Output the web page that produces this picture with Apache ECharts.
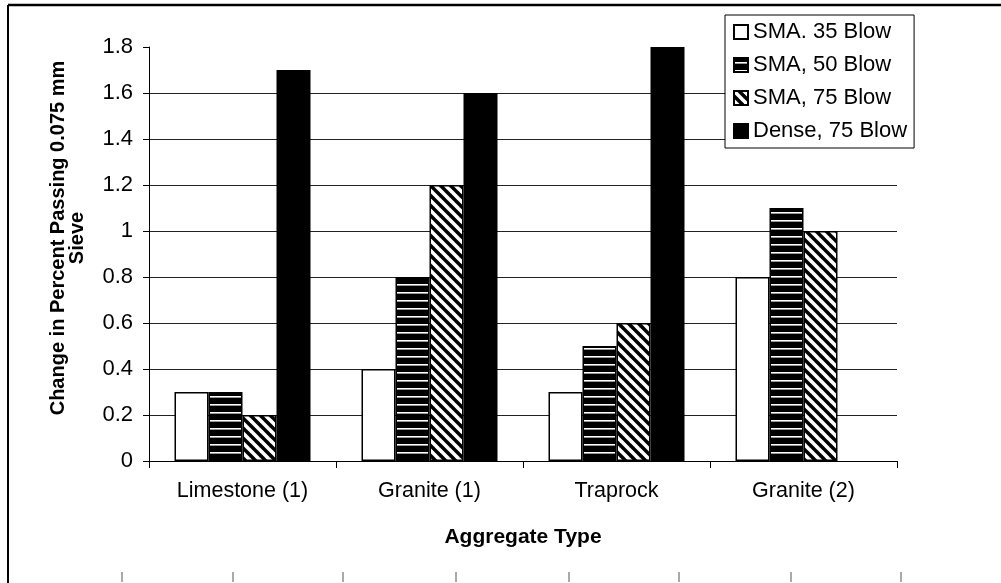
<!DOCTYPE html>
<html>
<head>
<meta charset="utf-8">
<script src="https://cdn.jsdelivr.net/npm/echarts@6/dist/echarts.min.js"></script>
<style>
html,body{margin:0;padding:0;background:#fff;}
#chart{width:1001px;height:583px;}
</style>
</head>
<body>
<div id="chart"></div>
<script>
const categories = ['Limestone (1)', 'Granite (1)', 'Traprock', 'Granite (2)'];
const seriesNames = ['SMA. 35 Blow', 'SMA, 50 Blow', 'SMA, 75 Blow', 'Dense, 75 Blow'];
const sma35 = [0.3, 0.4, 0.3, 0.8];
const sma50 = [0.3, 0.8, 0.5, 1.1];
const sma75 = [0.2, 1.2, 0.6, 1.0];
const dense75 = [1.7, 1.6, 1.8, null];
const yTicks = [0, 0.2, 0.4, 0.6, 0.8, 1, 1.2, 1.4, 1.6, 1.8];

const FONT = "'Liberation Sans', Arial, sans-serif";

function hStripePattern() {
  const c = document.createElement('canvas');
  c.width = 8; c.height = 8;
  const ctx = c.getContext('2d');
  ctx.fillStyle = '#000';
  ctx.fillRect(0, 0, 8, 8);
  ctx.fillStyle = '#fff';
  ctx.fillRect(0, 4, 8, 1.6);
  return c;
}
function dStripePattern() {
  const s = 10;
  const c = document.createElement('canvas');
  c.width = s; c.height = s;
  const ctx = c.getContext('2d');
  ctx.fillStyle = '#000';
  ctx.fillRect(0, 0, s, s);
  ctx.strokeStyle = '#fff';
  ctx.lineWidth = 3.6;
  for (let x0 = -s; x0 <= s; x0 += s) {
    ctx.beginPath();
    ctx.moveTo(x0 - 2, -2);
    ctx.lineTo(x0 + s + 2, s + 2);
    ctx.stroke();
  }
  return c;
}

const fills = [
  '#ffffff',
  { image: hStripePattern(), repeat: 'repeat' },
  { image: dStripePattern(), repeat: 'repeat' },
  '#000000'
];
const dataSets = [sma35, sma50, sma75, dense75];

const series = dataSets.map((d, i) => ({
  name: seriesNames[i],
  type: 'bar',
  data: d,
  barWidth: 34,
  barGap: '0%',
  itemStyle: { color: fills[i], borderColor: '#000', borderWidth: 1.5 },
  emphasis: { disabled: true },
  animation: false
}));

const bottomTickXs = [122, 233, 343, 456, 569, 679, 791, 901];
const graphics = [
  { type: 'line', shape: { x1: 8, y1: 5, x2: 1001, y2: 5 }, style: { stroke: '#000', lineWidth: 2.5 } },
  { type: 'line', shape: { x1: 8, y1: 5, x2: 8, y2: 583 }, style: { stroke: '#000', lineWidth: 2 } }
].concat(bottomTickXs.map(x => ({
  type: 'line', shape: { x1: x, y1: 572, x2: x, y2: 582 }, style: { stroke: '#555', lineWidth: 1 }
})));

const chart = echarts.init(document.getElementById('chart'), null, { renderer: 'canvas' });
chart.setOption({
  animation: false,
  backgroundColor: '#fff',
  textStyle: { fontFamily: FONT, color: '#000' },
  grid: { left: 149, right: 104, top: 47, bottom: 122, containLabel: false },
  legend: {
    orient: 'vertical',
    left: 725, top: 15,
    padding: [6, 7, 6, 8],
    itemGap: 11,
    itemWidth: 14, itemHeight: 14,
    icon: 'rect',
    backgroundColor: '#fff',
    borderColor: '#000',
    borderWidth: 1,
    borderRadius: 0,
    textStyle: { fontSize: 22, fontFamily: FONT, color: '#000', lineHeight: 22 },
    data: seriesNames
  },
  xAxis: {
    type: 'category',
    data: categories,
    boundaryGap: true,
    name: 'Aggregate Type',
    nameLocation: 'middle',
    nameGap: 66,
    nameTextStyle: { fontSize: 21, fontWeight: 'bold', fontFamily: FONT, color: '#000' },
    axisLine: { show: true, lineStyle: { color: '#000', width: 1 } },
    axisTick: { show: true, alignWithLabel: false, length: 7, lineStyle: { color: '#000' } },
    axisLabel: { fontSize: 21.5, fontFamily: FONT, color: '#000', margin: 19 },
    splitLine: { show: false }
  },
  yAxis: {
    type: 'value',
    min: 0, max: 1.8, interval: 0.2,
    name: 'Change in Percent Passing 0.075 mm\nSieve',
    nameLocation: 'middle',
    nameGap: 62,
    nameTextStyle: { fontSize: 20, fontWeight: 'bold', fontFamily: FONT, color: '#000', lineHeight: 19, padding: [0, 0, 0, 32] },
    axisLine: { show: true, lineStyle: { color: '#000', width: 1 } },
    axisTick: { show: true, length: 6, lineStyle: { color: '#000' } },
    axisLabel: {
      fontSize: 22, fontFamily: FONT, color: '#000', margin: 16,
      formatter: v => { const t = yTicks.find(k => Math.abs(k - v) < 1e-9); return String(t !== undefined ? t : v); }
    },
    splitLine: { show: true, showMaxLine: false, lineStyle: { color: '#222', width: 1 } }
  },
  series: series,
  graphic: graphics
});
</script>
</body>
</html>
